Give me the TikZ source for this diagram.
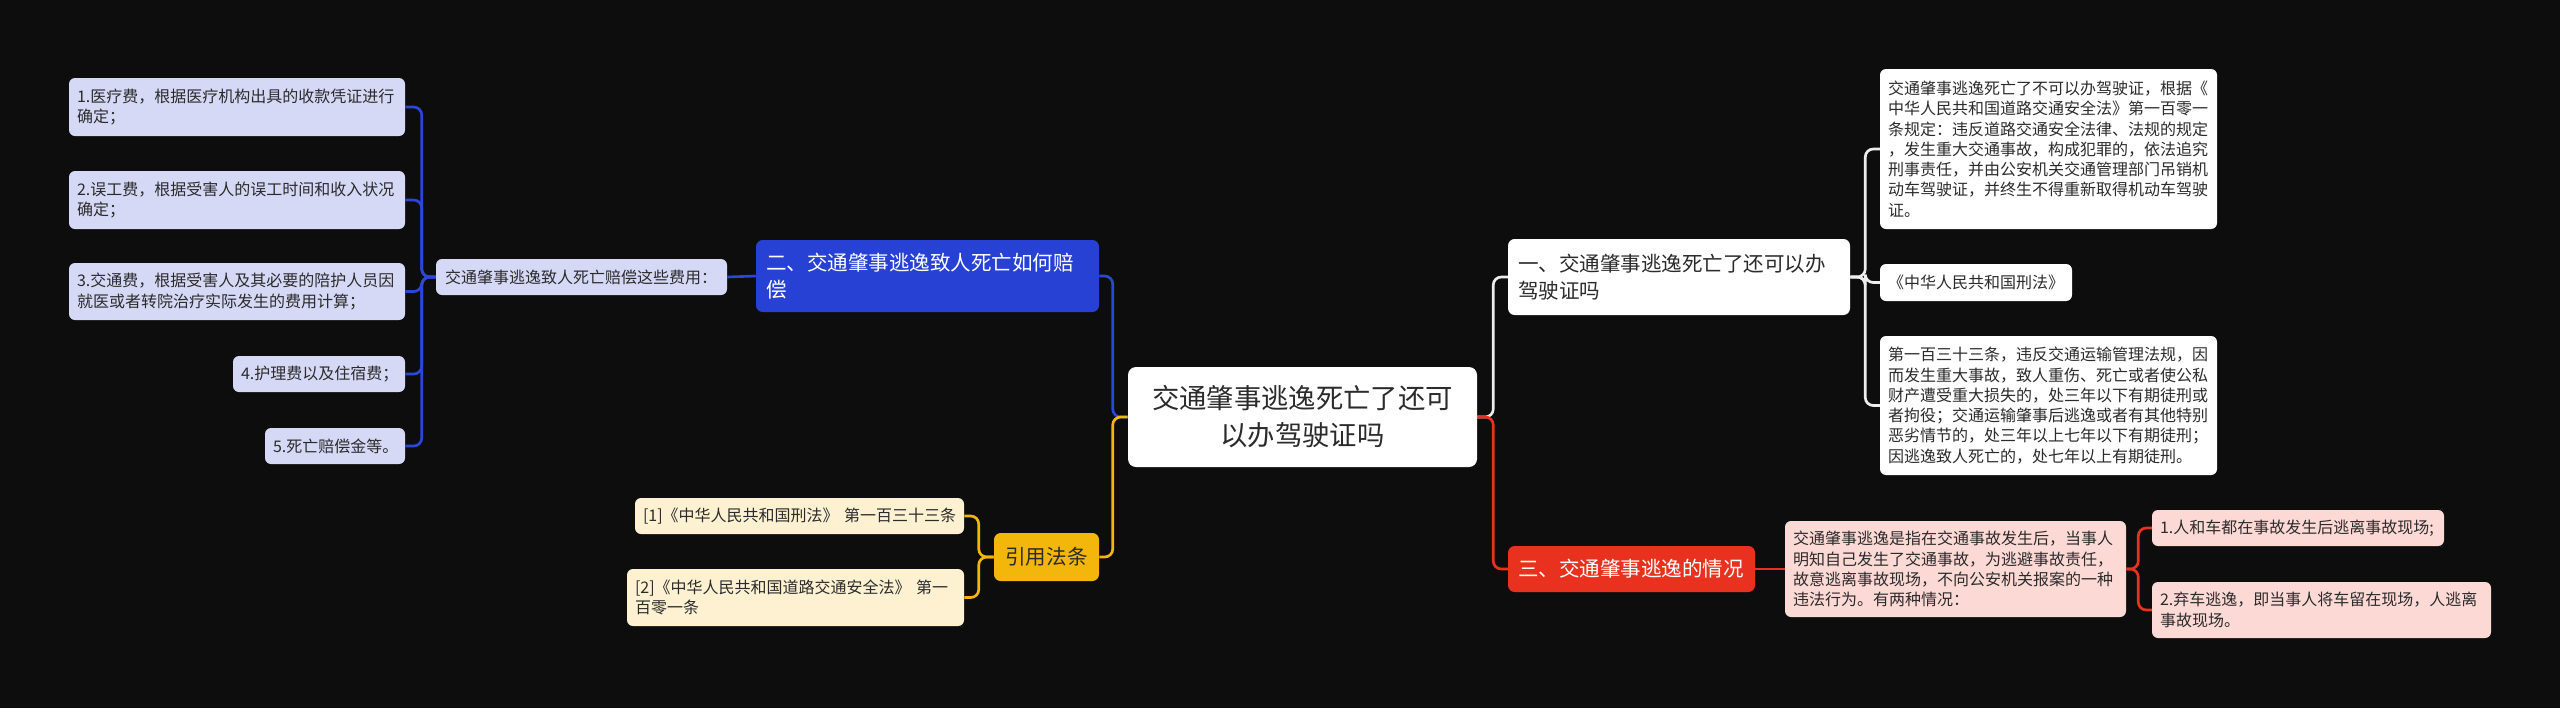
\documentclass[tikz,border=0pt]{standalone}
\usepackage{fontspec}
\setmainfont{Noto Sans CJK SC}
\newdimen\px
\px=0.75pt
\definecolor{bg}{HTML}{0D0D0D}
\definecolor{txt}{HTML}{2B2B2B}
\definecolor{blueL}{HTML}{2641D4}
\definecolor{blueC}{HTML}{2B47D6}
\definecolor{blueLeaf}{HTML}{D5D9F6}
\definecolor{yelL}{HTML}{F2B70A}
\definecolor{yelLeaf}{HTML}{FDF1D2}
\definecolor{redL}{HTML}{E8321F}
\definecolor{redLeaf}{HTML}{FDD9D5}
\definecolor{whiteC}{HTML}{EDEDED}
\tikzset{
  sz/.style n args={3}{inner xsep={#3*\px}, inner ysep=0pt, minimum width={#1*\px}, minimum height={#2*\px}, text width={(#1-2*#3)*\px}, align=left},
  szc/.style 2 args={inner sep=0pt, minimum width={#1*\px}, minimum height={#2*\px}, align=center},
  basebox/.style={rounded corners=4.5pt, text=txt, font=\fontsize{12}{15.2}\selectfont},
  leafblue/.style={basebox, fill=blueLeaf},
  leafyel/.style={basebox, fill=yelLeaf},
  leafwhite/.style={basebox, fill=white},
  leafred/.style={basebox, fill=redLeaf},
  lone/.style={rounded corners=5pt, font=\fontsize{15.4}{20.3}\selectfont},
  root/.style={rounded corners=6pt, fill=white, text=txt, font=\fontsize{20.5}{27.7}\selectfont},
  con/.style={line width=2pt, rounded corners=6pt},
}
\begin{document}
\begin{tikzpicture}[x=0.75pt,y=-0.75pt]
\useasboundingbox (0,0) rectangle (2560,708);
\fill[bg] (0,0) rectangle (2560,708);
% root
\node[root, szc={349}{100}] (c) at (1302.5,417) {交通肇事逃逸死亡了还可\\以办驾驶证吗};
% blue branch
\node[lone, fill=blueL, text=white, sz={343}{72}{10}] (b) at (927.5,276) {二、交通肇事逃逸致人死亡如何赔\\偿};
\node[leafblue, sz={291}{36}{9}] (pay) at (581.5,277) {交通肇事逃逸致人死亡赔偿这些费用：};
\node[leafblue, sz={336}{58}{8}] (i1) at (237,107) {1.医疗费，根据医疗机构出具的收款凭证进行\\确定；};
\node[leafblue, sz={336}{58}{8}] (i2) at (237,200) {2.误工费，根据受害人的误工时间和收入状况\\确定；};
\node[leafblue, sz={336}{57}{8}] (i3) at (237,291.5) {3.交通费，根据受害人及其必要的陪护人员因\\就医或者转院治疗实际发生的费用计算；};
\node[leafblue, sz={172}{36}{8}] (i4) at (319,374) {4.护理费以及住宿费；};
\node[leafblue, sz={140}{36}{8}] (i5) at (335,446) {5.死亡赔偿金等。};
% yellow branch
\node[lone, fill=yelL, text=txt, szc={105}{48}] (y) at (1046.5,557) {引用法条};
\node[leafyel, sz={329}{36}{8}] (f1) at (799.5,516) {\mbox{[1]《中华人民共和国刑法》~第一百三十三条}};
\node[leafyel, sz={337}{57}{8}] (f2) at (795.5,597.5) {[2]《中华人民共和国道路交通安全法》~第一\\百零一条};
% white branch
\node[lone, fill=white, text=txt, sz={342}{76}{10}] (w) at (1679,277) {一、交通肇事逃逸死亡了还可以办\\驾驶证吗};
\node[leafwhite, sz={337}{160}{8}] (r1) at (2048.5,149) {交通肇事逃逸死亡了不可以办驾驶证，根据《\\中华人民共和国道路交通安全法》第一百零一\\条规定：违反道路交通安全法律、法规的规定\\，发生重大交通事故，构成犯罪的，依法追究\\刑事责任，并由公安机关交通管理部门吊销机\\动车驾驶证，并终生不得重新取得机动车驾驶\\证。};
\node[leafwhite, sz={192}{37}{8}] (r2) at (1976,282.5) {《中华人民共和国刑法》};
\node[leafwhite, sz={337}{139}{8}] (r3) at (2048.5,405.5) {第一百三十三条，违反交通运输管理法规，因\\而发生重大事故，致人重伤、死亡或者使公私\\财产遭受重大损失的，处三年以下有期徒刑或\\者拘役；交通运输肇事后逃逸或者有其他特别\\恶劣情节的，处三年以上七年以下有期徒刑；\\因逃逸致人死亡的，处七年以上有期徒刑。};
% red branch
\node[lone, fill=redL, text=white, sz={247}{46}{10}] (rd) at (1631.5,569) {三、交通肇事逃逸的情况};
\node[leafred, sz={341}{96}{8}] (pk) at (1955.5,569) {交通肇事逃逸是指在交通事故发生后，当事人\\明知自己发生了交通事故，为逃避事故责任，\\故意逃离事故现场，不向公安机关报案的一种\\违法行为。有两种情况：};
\node[leafred, sz={292}{36}{8}] (p1) at (2298,528) {1.人和车都在事故发生后逃离事故现场;};
\node[leafred, sz={339}{56}{8}] (p2) at (2321.5,610) {2.弃车逃逸，即当事人将车留在现场，人逃离\\事故现场。};
% connectors
\draw[con, blueC] (c.west) -- ++(-15,0) |- (b.east);
\draw[con, yelL] (c.west) -- ++(-15,0) |- (y.east);
\draw[con, whiteC] (c.east) -- ++(16,0) |- (w.west);
\draw[con, redL] (c.east) -- ++(16,0) |- (rd.west);
\draw[con, blueC] (b.west) -- (pay.east);
\foreach \k in {i1,i2,i3,i4,i5} \draw[con, blueC] (pay.west) -- ++(-14,0) |- (\k.east);
\foreach \k in {f1,f2} \draw[con, yelL] (y.west) -- ++(-15,0) |- (\k.east);
\foreach \k in {r1,r2,r3} \draw[con, whiteC] (w.east) -- ++(15,0) |- (\k.west);
\draw[con, redL] (rd.east) -- (pk.west);
\foreach \k in {p1,p2} \draw[con, redL] (pk.east) -- ++(12,0) |- (\k.west);
\end{tikzpicture}
\end{document}
